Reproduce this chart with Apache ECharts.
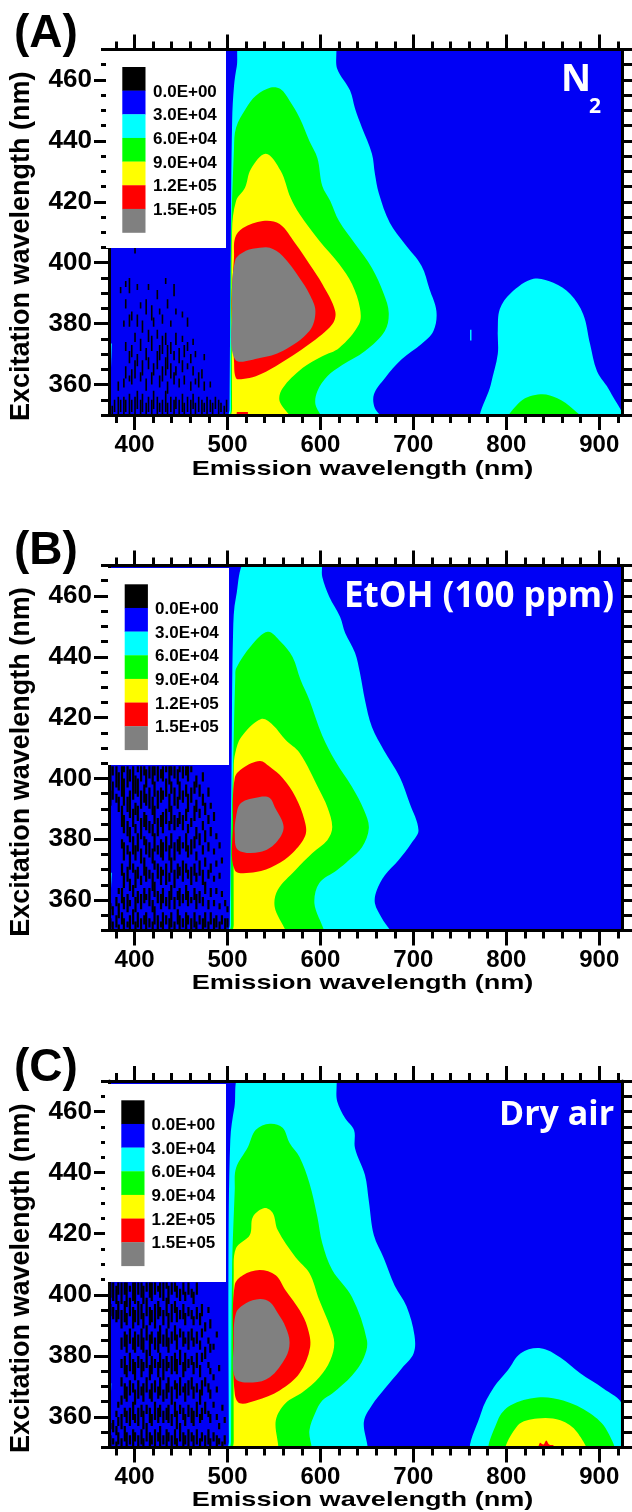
<!DOCTYPE html>
<html>
<head>
<meta charset="utf-8">
<title>Excitation-emission maps</title>
<script src="https://cdn.jsdelivr.net/npm/echarts@6/dist/echarts.min.js"></script>
<style>
  html, body { margin: 0; padding: 0; background: #fff; }
  #main { width: 632px; height: 1512px; }
</style>
</head>
<body>
<div id="main"></div>
<script>
// axis ticks
const xMajorTicks = [400, 500, 600, 700, 800, 900];
const xMinorTicks = [380, 420, 440, 460, 480, 520, 540, 560, 580, 620, 640, 660, 680, 720, 740, 760, 780, 820, 840, 860, 880, 920];
const yMajorTicks = [360, 380, 400, 420, 440, 460];
const yMinorTicks = [350, 355, 365, 370, 375, 385, 390, 395, 405, 410, 415, 425, 430, 435, 445, 450, 455, 465, 470];

// legend
const legendLabels = ['0.0E+00', '3.0E+04', '6.0E+04', '9.0E+04', '1.2E+05', '1.5E+05'];
const legendColors = ['#000000', '#0000ff', '#00ffff', '#00ff00', '#ffff00', '#ff0000', '#808080'];

// contour outlines as [emission, excitation], panel A (N2)
const cyanA = [[502, 350], [502.2, 352], [503.5, 404.5], [505, 446.5], [507, 458], [510, 464.5], [515.5, 470], [612.7, 470], [618, 463.7], [631.9, 456.5], [637.2, 450.6], [644.7, 444.3], [655.4, 435.8], [658.6, 429.2], [662.9, 422.7], [674.6, 413.1], [690.6, 406.2], [708.7, 399], [717.3, 391.4], [724.8, 384.1], [721.6, 377.6], [708.7, 373.3], [687.4, 368.3], [669.3, 362.1], [657.6, 356.8], [658.6, 352.2], [669.3, 350]];
const cyanBlobA = [[774.9, 350], [783.4, 360.1], [790.8, 370], [790.8, 377.6], [793, 384.8], [804.7, 390], [829.2, 394.7], [850.6, 393.4], [868.7, 389.7], [882.7, 383.1], [890.1, 373.3], [897.6, 364.4], [911.5, 357.8], [924.3, 350]];
const cyanSpeckA = [[761, 374.5], [761, 378], [762.5, 378], [762.5, 374.5]];
const cyanEdgeA = [[372.5, 364], [372.5, 373.5], [375.5, 373.5], [374.5, 364]];
const greenA = [[503.8, 350], [503.8, 352], [503.8, 404.9], [507, 437.7], [509.2, 444.3], [519.8, 450.6], [530.5, 454.8], [546.5, 457.5], [557, 457], [566.8, 453.2], [577.5, 447.6], [588.1, 440], [596.7, 434.4], [602, 425.2], [610.6, 420.3], [620, 413.7], [637.2, 406.2], [655.4, 398.3], [668.2, 389.7], [673.5, 383.5], [669.3, 377.6], [648, 371], [623.4, 366.4], [607.4, 362.7], [596.7, 357.8], [594.6, 353.5], [602, 350]];
const greenBlobA = [[801.6, 350], [815.5, 354.5], [836.8, 356.8], [854.9, 355.5], [872, 351.9], [884.8, 350]];
const yellowA = [[504.9, 350], [504.9, 352], [504.9, 410.4], [509.2, 420.3], [518.8, 424.6], [525.2, 430.8], [541.2, 435.8], [557.2, 430.2], [567.9, 421.3], [577.5, 416], [598.8, 407.2], [620.1, 399.6], [634, 393], [642.5, 385.1], [641.5, 379.8], [620.1, 372], [602, 369.3], [580.7, 365.4], [559.3, 358.8], [556.1, 354.5], [570, 350]];
const redA = [[509.2, 362.1], [507, 367.7], [504.4, 387.4], [507, 401.6], [508.1, 408.1], [516.6, 411.4], [538, 413.7], [556.1, 412.7], [573.2, 406.2], [588.1, 399.6], [602, 393], [615.9, 384.1], [612.7, 379.8], [588.1, 373.3], [551.9, 366], [530.5, 362.7], [516.6, 361.8]];
const redSpeckA = [[509, 350], [510, 351], [522, 351], [522, 350]];
const grayA = [[508.1, 368.3], [504.9, 385.1], [508.1, 400.6], [519.8, 403.9], [534.8, 404.9], [545.5, 404.9], [559.3, 402.2], [577.5, 395], [588.1, 389.7], [594.6, 384.1], [588.1, 377.6], [559.3, 371], [534.8, 368.7]];

// panel B (EtOH)
const cyanB = [[502.4, 350], [502.5, 352], [504.4, 403.8], [506, 447.8], [509.2, 459.7], [522.7, 470], [598.5, 470], [602, 466.2], [609.5, 459.7], [621.2, 453.1], [626.6, 447.8], [637.2, 441.3], [642.5, 434.7], [647.9, 425.8], [655.4, 416.9], [668.2, 409.3], [685.3, 400.5], [695.9, 391.9], [705.5, 383], [698, 378.8], [684.2, 373.2], [669.3, 368.2], [660.7, 363.3], [658.6, 359], [666, 354.1], [676.8, 350]];
const cyanEdgeB = [[372.5, 363], [372.5, 369], [375.5, 369], [374.5, 363]];
const greenB = [[503.8, 350], [503.8, 352], [503.8, 376.5], [506, 403.8], [508.4, 433.4], [509.5, 436.3], [525.5, 443.6], [543.3, 448.2], [557.2, 444.9], [570, 439.9], [578.6, 432.4], [588.1, 425.8], [602, 414], [615.9, 405.7], [634, 397.2], [646.8, 389.6], [652.1, 383.7], [644.7, 377.4], [630.8, 373.2], [618, 369.9], [598.8, 365.6], [593.5, 359], [602, 350]];
const yellowB = [[506.7, 350], [506.7, 352], [506.7, 403.4], [508.4, 408.4], [514.8, 413.6], [536.2, 419.5], [548.7, 417.6], [562.6, 412.6], [577.5, 408.4], [598.8, 396.2], [607.4, 390.6], [612.7, 384], [607.4, 379.7], [591.4, 375.5], [573.2, 369.9], [554, 363.3], [550.8, 357.7], [562.6, 350]];
const redB = [[507.8, 369.9], [506, 385.3], [507.8, 400.1], [516.6, 403.4], [534.8, 405.7], [545.5, 403.8], [559.3, 400.1], [573.2, 393.9], [582.8, 386.3], [583.9, 381.4], [570, 375.5], [551.9, 371.5], [530.5, 369.2]];
const grayB = [[511.3, 376.5], [507.8, 382.1], [509.2, 387.4], [514.5, 391.9], [534.8, 393.9], [545.5, 393.6], [550.8, 390.6], [560.4, 384], [551.9, 378.8], [534.8, 375.8]];

// panel C (dry air)
const cyanC = [[501.5, 350], [501.5, 352], [501, 407], [503, 450.7], [507.5, 461.5], [515.5, 470], [612.7, 470], [618, 463.4], [626.6, 457.8], [636.2, 453.9], [637.2, 448], [647.9, 439.2], [652.1, 430.6], [657.5, 419.5], [668.2, 412], [679.9, 403], [692.7, 396.2], [701.2, 386.7], [700.2, 380.8], [687.4, 375.9], [669.3, 369.3], [655.4, 363.8], [646.8, 358.5], [646.8, 350]];
const cyanBlobC = [[765, 350], [772.7, 361.2], [786.6, 369.7], [801.6, 375.3], [815.5, 380.9], [836.8, 382.5], [858.1, 379.5], [879.5, 374.3], [904, 369.4], [925, 363.8], [925, 350]];
const cyanEdgeC = [[372.5, 367], [372.5, 371], [375, 371], [374.5, 367]];
const greenC = [[503.8, 350], [503.8, 352], [504.9, 407], [507.8, 434.3], [509.2, 441.5], [522, 448.4], [530.5, 454], [545.5, 456], [559.3, 454.7], [566.8, 449.7], [577.5, 445.1], [588.1, 436.6], [596.7, 425.5], [602, 416.9], [612.7, 408.1], [634, 399.2], [650, 385.1], [646.8, 379.5], [634, 373.6], [612.7, 367.7], [602, 365.4], [594.6, 361.5], [588.1, 355.6], [588.1, 350]];
const greenBlobC = [[784.2, 350], [790.8, 358.9], [804.7, 363.8], [833.5, 366.4], [861.2, 365.4], [890, 361.2], [908.2, 355.6], [914.6, 350]];
const yellowC = [[506.7, 350], [506.7, 352], [506.7, 407], [509.2, 415.3], [524, 419.6], [527.3, 425.5], [539.8, 428.4], [548.7, 426.8], [554, 421.2], [573.2, 412.3], [588.1, 407.1], [598.8, 398.2], [610.6, 389.4], [614.9, 384.1], [610.6, 378.6], [598.8, 373], [580.7, 368.1], [562.4, 364.5], [552, 358.9], [552, 350]];
const yellowBlobC = [[800.5, 350], [812.2, 357.2], [833.5, 359.5], [858.1, 358.9], [876.2, 355], [885.8, 350]];
const redC = [[507.8, 367.7], [506, 386.1], [507.8, 403.2], [516.6, 406.4], [534.6, 408.1], [551.9, 406.4], [562.4, 401.5], [577.5, 395], [586, 389.4], [588.9, 382.8], [577.5, 374.3], [556.1, 368.7], [530.5, 365.4], [513.1, 364.5]];
const redSpeckC = [[834, 350], [836, 351.5], [840, 351], [843, 352.3], [846, 351], [851, 350.6], [851, 350]];
const grayC = [[508.4, 372.7], [506.7, 384.1], [509.2, 394], [519.8, 397.2], [534.8, 398.6], [545.5, 397.6], [554, 394], [562.6, 389.4], [566.8, 384.4], [562.6, 379.5], [545.5, 373], [527.3, 371.3]];

// dark low-signal streaks: [emission, ex from, ex to, ex from, ex to, ...]
const noiseA = [
  [376, 350, 353], [378.5, 351, 355], [382.5, 350, 356, 358, 361], [385, 351, 355, 390, 392],
  [388.5, 350, 356, 359, 362, 379, 381], [390.5, 351, 355, 362, 366, 371, 374, 385, 388, 392, 394],
  [394.5, 350, 357, 361, 363, 367, 371, 379, 383, 390, 395], [397, 351, 355, 360, 365, 369, 373, 381, 384],
  [400.5, 350, 356, 362, 368, 374, 377, 403, 405], [403, 352, 358, 366, 370, 379, 383, 391, 393],
  [406.5, 350, 355, 361, 364, 371, 375, 385, 387], [408.5, 351, 357, 363, 368, 377, 381],
  [412.5, 350, 354, 358, 362, 368, 372, 383, 388], [415, 351, 356, 365, 369, 374, 378, 391, 393],
  [418.5, 350, 355, 360, 364, 371, 376, 381, 386], [420.5, 352, 358, 363, 367, 379, 382],
  [424.5, 350, 356, 365, 371, 375, 378, 388, 391], [427, 351, 354, 359, 363, 368, 373, 383, 385],
  [430, 350, 355, 361, 366, 370, 376, 380, 383], [433.5, 351, 358, 363, 369, 373, 377, 393, 395],
  [435.5, 350, 354, 357, 361, 365, 373, 385, 388], [439, 351, 356, 362, 367, 370, 374, 379, 381],
  [442.5, 350, 355, 360, 364, 368, 371, 389, 393], [444.5, 352, 356, 363, 366, 373, 377, 383, 385],
  [448, 350, 355, 359, 362, 367, 372], [451.5, 351, 357, 364, 368, 374, 376, 382, 384],
  [453.5, 350, 354, 360, 363, 369, 373], [457, 351, 356, 365, 367, 371, 374, 379, 382],
  [460.5, 350, 355, 358, 361, 367, 370], [463, 352, 357, 363, 366, 373, 375],
  [465.5, 350, 354, 360, 362, 369, 371], [469, 351, 356, 359, 364], [472.5, 350, 355, 362, 365],
  [475, 351, 354, 358, 361, 368, 370], [478, 350, 356], [481.5, 351, 355, 359, 361],
  [484, 350, 354], [487, 352, 356], [490.5, 350, 355], [493, 351, 354], [496.5, 350, 353], [499, 351, 355]
];
const noiseB = [
  [374, 351, 354, 357, 359, 391, 396, 399, 404], [376.5, 350, 353, 355, 358, 393, 399, 401, 404],
  [380.5, 351, 355, 358, 361, 392, 395, 397, 404], [383, 350, 352, 354, 359, 362, 364, 389, 394, 396, 402],
  [386.5, 352, 356, 359, 364, 368, 372, 377, 380, 384, 391, 394, 404], [388.5, 350, 354, 357, 361, 364, 369, 373, 379, 382, 388, 391, 400, 402, 404],
  [392.5, 351, 353, 356, 362, 366, 371, 375, 378, 381, 386, 389, 394, 397, 404], [395, 350, 355, 358, 360, 363, 367, 370, 376, 379, 384, 387, 396, 399, 403],
  [398.5, 352, 357, 361, 365, 369, 372, 375, 381, 384, 390, 393, 404], [401, 350, 353, 356, 361, 364, 370, 373, 378, 382, 385, 388, 392, 395, 401],
  [403.5, 351, 356, 359, 363, 367, 371, 376, 382, 386, 391, 394, 400, 402, 404], [407, 350, 354, 357, 362, 365, 368, 372, 377, 380, 387, 390, 396, 399, 404],
  [410.5, 352, 355, 359, 364, 368, 374, 378, 381, 384, 389, 392, 398, 401, 404], [412.5, 350, 356, 360, 362, 366, 371, 375, 380, 383, 388, 391, 395, 397, 403],
  [416, 351, 354, 358, 364, 367, 370, 374, 379, 382, 386, 390, 397, 400, 404], [419.5, 350, 353, 356, 360, 363, 369, 372, 377, 381, 385, 388, 394, 398, 404],
  [421.5, 352, 358, 361, 366, 370, 373, 376, 382, 385, 391, 394, 399, 401, 404], [425, 350, 355, 359, 363, 367, 372, 375, 378, 381, 387, 390, 396, 399, 404],
  [428.5, 351, 353, 357, 362, 365, 371, 374, 380, 384, 388, 392, 397, 400, 403], [430.5, 350, 356, 359, 364, 368, 370, 373, 379, 382, 389, 393, 396, 399, 404],
  [434, 352, 355, 358, 361, 365, 372, 376, 381, 385, 390, 394, 400, 402, 404], [437.5, 350, 354, 357, 363, 366, 369, 373, 378, 383, 386, 389, 395, 398, 404],
  [439.5, 351, 356, 360, 365, 369, 374, 377, 382, 385, 391, 395, 399, 401, 404], [443, 350, 353, 357, 361, 364, 370, 373, 379, 383, 388, 391, 397, 400, 404],
  [446.5, 352, 357, 360, 363, 367, 372, 376, 380, 384, 387, 390, 394, 398, 403], [448.5, 350, 355, 358, 364, 368, 371, 375, 381, 385, 389, 393, 399, 402, 404],
  [452, 351, 354, 359, 362, 366, 373, 377, 379, 383, 388, 392, 396, 400, 404], [455.5, 350, 356, 360, 365, 369, 372, 376, 382, 386, 390, 394, 398, 401, 404],
  [457.5, 352, 355, 358, 363, 367, 370, 374, 378, 382, 385, 389, 395, 399, 404], [461, 350, 354, 359, 361, 365, 371, 375, 380, 384, 387, 392, 397, 402, 404],
  [464.5, 351, 356, 360, 364, 368, 372, 377, 381, 386, 391, 395, 399], [466.5, 350, 353, 357, 362, 366, 369, 373, 376, 380, 384, 389, 393, 397, 401],
  [470, 352, 355, 359, 363, 368, 373, 378, 382, 387, 390, 394, 398], [473.5, 350, 354, 358, 361, 365, 370, 375, 378, 383, 386, 391, 395, 399, 402],
  [476, 351, 356, 362, 366, 371, 374, 379, 383, 388, 392], [479.5, 350, 353, 357, 360, 367, 370, 376, 379, 385, 388, 394, 397],
  [482, 352, 356, 361, 364, 369, 372, 381, 384, 390, 392], [485.5, 350, 354, 358, 360, 366, 368, 375, 377, 386, 389],
  [488, 351, 355, 362, 364, 371, 373, 380, 382], [491.5, 350, 353, 357, 359, 367, 369, 377, 379],
  [494, 352, 355, 361, 363, 372, 374], [497.5, 350, 354, 358, 360], [500, 351, 354, 356, 358]
];
const noiseC = [
  [374, 350, 354, 356, 358, 393, 397, 399, 404], [377, 351, 353, 355, 359, 392, 396, 398, 404],
  [380.5, 350, 352, 354, 357, 360, 362, 391, 395, 397, 403], [382.5, 351, 355, 357, 360, 363, 365, 392, 398, 400, 404],
  [386, 350, 353, 356, 361, 364, 367, 370, 373, 376, 379, 382, 386, 389, 395, 397, 404], [389.5, 352, 357, 360, 363, 366, 371, 374, 380, 383, 388, 391, 398, 400, 404],
  [391.5, 350, 355, 358, 362, 365, 370, 373, 377, 381, 387, 390, 394, 396, 404], [395, 351, 354, 357, 363, 367, 372, 375, 381, 384, 389, 393, 399, 401, 403],
  [398.5, 350, 356, 359, 365, 368, 371, 374, 379, 382, 386, 389, 396, 398, 404], [400.5, 352, 355, 358, 361, 364, 369, 372, 378, 381, 388, 391, 395, 397, 404],
  [404, 350, 354, 357, 363, 366, 372, 376, 380, 383, 387, 390, 398, 400, 404], [407.5, 351, 356, 360, 364, 367, 370, 373, 379, 382, 389, 392, 397, 399, 404],
  [409.5, 350, 353, 356, 362, 365, 371, 375, 378, 381, 386, 389, 394, 397, 403], [413, 352, 358, 361, 364, 368, 373, 376, 382, 385, 390, 393, 399, 401, 404],
  [416.5, 350, 355, 358, 363, 366, 369, 372, 377, 380, 387, 390, 396, 399, 404], [418.5, 351, 354, 357, 361, 365, 371, 374, 380, 384, 388, 391, 395, 398, 404],
  [422, 350, 356, 359, 365, 368, 372, 376, 379, 382, 386, 389, 397, 400, 404], [425.5, 352, 355, 358, 363, 366, 370, 373, 378, 381, 388, 392, 398, 401, 403],
  [427.5, 350, 357, 360, 364, 367, 373, 376, 381, 384, 390, 393, 396, 399, 404], [431, 351, 354, 358, 362, 365, 369, 372, 379, 383, 387, 390, 395, 398, 404],
  [434.5, 350, 356, 359, 363, 366, 371, 375, 380, 383, 389, 393, 399, 402, 404], [436.5, 352, 355, 358, 364, 368, 373, 376, 378, 381, 386, 389, 394, 397, 403],
  [440, 350, 354, 357, 361, 364, 370, 374, 380, 384, 388, 391, 397, 400, 404], [443.5, 351, 356, 360, 365, 369, 372, 375, 381, 385, 390, 394, 398, 401, 404],
  [445.5, 350, 353, 356, 362, 366, 371, 374, 379, 382, 387, 391, 396, 399, 403], [449, 352, 358, 361, 364, 367, 373, 377, 382, 386, 389, 392, 395, 398, 402],
  [452.5, 350, 355, 359, 363, 368, 370, 373, 378, 383, 388, 392, 397, 400, 404], [454.5, 351, 354, 357, 361, 365, 371, 375, 381, 384, 386, 390, 394, 398, 401],
  [458, 350, 356, 360, 364, 367, 372, 376, 379, 382, 388, 393, 396, 400, 404], [461.5, 352, 355, 358, 363, 369, 373, 377, 380, 385, 389, 392, 395, 399, 402],
  [463.5, 350, 354, 357, 362, 366, 370, 374, 378, 383, 386, 390, 393, 397, 401], [467, 351, 356, 360, 365, 368, 371, 376, 381, 384, 388, 392, 396, 400, 404],
  [470.5, 350, 353, 358, 361, 364, 369, 373, 377, 382, 385, 390, 394], [472.5, 352, 355, 359, 363, 367, 372, 378, 381, 386, 389, 393, 397],
  [476, 350, 354, 361, 365, 370, 373, 379, 383, 388, 391], [479.5, 351, 356, 360, 362, 368, 371, 376, 378, 384, 386, 394, 396],
  [481.5, 350, 353, 358, 361, 366, 369, 374, 376, 381, 384, 389, 392], [485, 352, 355, 363, 365, 372, 374, 382, 384],
  [488.5, 350, 354, 359, 361, 368, 370, 386, 388], [491, 351, 353, 356, 358, 375, 377], [494.5, 350, 352, 362, 364], [497, 351, 354, 358, 360]
];

const xRange = [372.5, 925];
const yRange = [350, 470];
const fontName = '"Liberation Sans", Arial, sans-serif';

const panels = [
  {
    tag: '(A)', tagTop: 11, top: 49.5, height: 365.5, noise: noiseA, noiseWidth: 1.6, nameY: 469,
    notes: [{ text: 'N', left: 561, top: 62, size: 37 }, { text: '2', left: 589, top: 97, size: 21 }],
    box: [106, 51, 120, 197], swatchX: 122.3, swatchY: 67, labelX: 153,
    shapes: [[cyanA, 2], [cyanBlobA, 2], [cyanSpeckA, 2], [cyanEdgeA, 2], [greenA, 3], [greenBlobA, 3], [yellowA, 4], [redA, 5], [redSpeckA, 5], [grayA, 6]]
  },
  {
    tag: '(B)', tagTop: 528, top: 565.5, height: 365, noise: noiseB, noiseWidth: 2.2, nameY: 983,
    notes: [{ text: 'EtOH (100 ppm)', left: 344, top: 580, size: 35 }],
    box: [108, 568, 121, 197], swatchX: 124.7, swatchY: 584.3, labelX: 155,
    shapes: [[cyanB, 2], [cyanEdgeB, 2], [greenB, 3], [yellowB, 4], [redB, 5], [grayB, 6]]
  },
  {
    tag: '(C)', tagTop: 1045, top: 1081, height: 366.5, noise: noiseC, noiseWidth: 2.2, nameY: 1500,
    notes: [{ text: 'Dry air', left: 499, top: 1098, size: 34 }],
    box: [105, 1084, 121, 198], swatchX: 121.3, swatchY: 1100.3, labelX: 151.5,
    shapes: [[cyanC, 2], [cyanBlobC, 2], [cyanEdgeC, 2], [greenC, 3], [greenBlobC, 3], [yellowC, 4], [yellowBlobC, 4], [redC, 5], [redSpeckC, 5], [grayC, 6]]
  }
];

function tickAxis(gridIndex, position, range, values, length, extra) {
  return Object.assign({
    type: 'value',
    gridIndex: gridIndex,
    position: position,
    min: range[0],
    max: range[1],
    z: 10,
    splitLine: { show: false },
    axisLine: { show: false, onZero: false },
    axisLabel: { show: false },
    axisTick: { show: true, length: length, customValues: values, lineStyle: { color: '#000', width: 3 } }
  }, extra || {});
}

const grids = [], xAxes = [], yAxes = [], series = [], titles = [], graphics = [];

panels.forEach(function (p, i) {
  grids.push({
    left: 105, width: 517.5, top: p.top, height: p.height,
    show: true, backgroundColor: '#0000f5', borderWidth: 0
  });

  // each side has one axis for major ticks and one for minor ticks
  const line = { show: true, onZero: false, lineStyle: { color: '#000', width: 3 } };
  xAxes.push(
    tickAxis(i, 'bottom', xRange, xMajorTicks, 15, {
      axisLine: line,
      axisLabel: {
        show: true, customValues: xMajorTicks, margin: 18,
        color: '#000', fontFamily: fontName, fontWeight: 'bold', fontSize: 24
      }
    }),
    tickAxis(i, 'bottom', xRange, xMinorTicks, 8),
    tickAxis(i, 'top', xRange, xMajorTicks, 15, { axisLine: line }),
    tickAxis(i, 'top', xRange, xMinorTicks, 8)
  );
  yAxes.push(
    tickAxis(i, 'left', yRange, yMajorTicks, 15, {
      axisLine: line,
      axisLabel: {
        show: true, customValues: yMajorTicks, margin: 17,
        color: '#000', fontFamily: fontName, fontWeight: 'bold', fontSize: 26
      },
      name: 'Excitation wavelength (nm)', nameLocation: 'middle', nameGap: 74, nameMoveOverlap: false,
      nameTextStyle: { color: '#000', fontFamily: fontName, fontWeight: 'bold', fontSize: 27, padding: [0, 28, 0, 0] }
    }),
    tickAxis(i, 'left', yRange, yMinorTicks, 8),
    tickAxis(i, 'right', yRange, yMajorTicks, 15, { axisLine: line }),
    tickAxis(i, 'right', yRange, yMinorTicks, 15)
  );

  const axisIndex = i * 4;

  // filled contour levels, pushed past the frame where they meet it so smoothing keeps the corners
  series.push({
    type: 'custom',
    xAxisIndex: axisIndex,
    yAxisIndex: axisIndex,
    clip: true,
    silent: true,
    z: 2,
    data: p.shapes.map(function (s, k) { return [k]; }),
    renderItem: function (params, api) {
      const shape = p.shapes[params.dataIndex];
      const points = shape[0].map(function (pt) {
        const c = api.coord(pt);
        if (pt[1] === yRange[0]) c[1] += 8;
        if (pt[1] === yRange[1]) c[1] -= 8;
        return c;
      });
      return {
        type: 'polygon',
        shape: { points: points, smooth: shape[0].length > 5 ? 0.35 : 0 },
        style: { fill: legendColors[shape[1]] }
      };
    }
  });

  // streaks left of 500 nm
  const streaks = [];
  p.noise.forEach(function (col) {
    for (let k = 1; k < col.length; k += 2) streaks.push([col[0], col[k], col[k + 1]]);
  });
  series.push({
    type: 'custom',
    xAxisIndex: axisIndex,
    yAxisIndex: axisIndex,
    clip: true,
    silent: true,
    z: 3,
    data: streaks,
    renderItem: function (params, api) {
      const a = api.coord([api.value(0), api.value(1)]);
      const b = api.coord([api.value(0), api.value(2)]);
      return {
        type: 'line',
        shape: { x1: a[0], y1: a[1], x2: b[0], y2: b[1] },
        style: { stroke: '#000', lineWidth: p.noiseWidth }
      };
    }
  });

  titles.push({
    text: p.tag, left: 14, top: p.tagTop, padding: 0,
    textStyle: { color: '#000', fontFamily: fontName, fontWeight: 'bold', fontSize: 46 }
  });
  p.notes.forEach(function (n) {
    titles.push({
      text: n.text, left: n.left, top: n.top, padding: 0, z: 20,
      textStyle: { color: '#fff', fontFamily: '"Open Sans"', fontWeight: 'bold', fontSize: n.size }
    });
  });

  // stretched sideways like the original
  graphics.push({
    type: 'text', x: 362.5, y: p.nameY, scaleX: 1.29, z: 16,
    style: { text: 'Emission wavelength (nm)', fill: '#000', font: 'bold 21px ' + fontName, textAlign: 'center', textVerticalAlign: 'middle' }
  });

  // legend box
  graphics.push({
    type: 'rect', left: p.box[0], top: p.box[1], z: 15,
    shape: { width: p.box[2], height: p.box[3] }, style: { fill: '#fff' }
  });
  legendColors.forEach(function (c, k) {
    graphics.push({
      type: 'rect', left: p.swatchX, top: p.swatchY + k * 23.65, z: 16,
      shape: { width: 23.2, height: 23.9 }, style: { fill: c }
    });
  });
  legendLabels.forEach(function (t, k) {
    graphics.push({
      type: 'text', left: p.labelX, top: p.swatchY + 16.5 + k * 23.65, z: 16,
      style: { text: t, fill: '#000', font: 'bold 17px ' + fontName }
    });
  });
});

const chart = echarts.init(document.getElementById('main'), null, { renderer: 'canvas' });
chart.setOption({
  animation: false,
  backgroundColor: '#fff',
  title: titles,
  grid: grids,
  xAxis: xAxes,
  yAxis: yAxes,
  series: series,
  graphic: graphics
});
</script>
</body>
</html>
